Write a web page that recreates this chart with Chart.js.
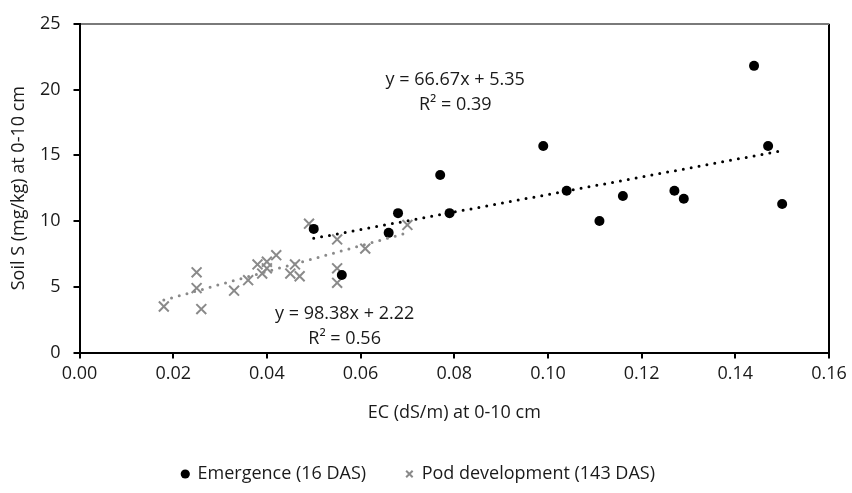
<!DOCTYPE html>
<html>
<head>
<meta charset="utf-8">
<script src="https://cdn.jsdelivr.net/npm/chart.js@4/dist/chart.umd.min.js"></script>
<style>
    html, body { margin: 0; padding: 0; background: #fff; }
    #wrap { width: 852px; height: 493px; }
</style>
</head>
<body>
<div id="wrap"><canvas id="SoilSChart" width="852" height="493"></canvas></div>
<script>
// EC vs soil S, two sampling dates
var ecEmergence = [0.050, 0.056, 0.066, 0.068, 0.077, 0.079, 0.099, 0.104, 0.111, 0.116, 0.127, 0.129, 0.144, 0.147, 0.150];
var sEmergence = [9.4, 5.9, 9.1, 10.6, 13.5, 10.6, 15.7, 12.3, 10.0, 11.9, 12.3, 11.7, 21.8, 15.7, 11.3];

var ecPod = [0.018, 0.025, 0.025, 0.026, 0.033, 0.036, 0.038, 0.039, 0.040, 0.040, 0.042, 0.045, 0.046, 0.047, 0.049, 0.055, 0.055, 0.055, 0.061, 0.070];
var sPod = [3.5, 6.1, 4.9, 3.3, 4.7, 5.5, 6.7, 6.0, 6.9, 6.4, 7.4, 6.0, 6.7, 5.8, 9.8, 8.6, 6.4, 5.3, 7.9, 9.7];

// linear fits: [slope, intercept, r2]
var fitEmergence = [66.67, 5.35, 0.39];
var fitPod = [98.38, 2.22, 0.56];

var seriesNames = ["Emergence (16 DAS)", "Pod development (143 DAS)"];
var xTitle = "EC (dS/m) at 0-10 cm";
var yTitle = "Soil S (mg/kg) at 0-10 cm";

var FONT = "'Open Sans', sans-serif";
var FSIZE = 18;
var TEXT = "#1a1a1a";
var GREY = "#8a8a8a";

function toPoints(xs, ys) {
    return xs.map(function (x, i) { return { x: x, y: ys[i] }; });
}

function trendPoints(xs, fit) {
    var lo = Math.min.apply(null, xs), hi = Math.max.apply(null, xs);
    return [lo, hi].map(function (x) { return { x: x, y: fit[0] * x + fit[1] }; });
}

function eqText(fit) {
    return "y = " + fit[0].toFixed(2) + "x + " + fit[1].toFixed(2);
}

// equation labels, placed in data units
var fitLabels = {
    id: "fitLabels",
    afterDatasetsDraw: function (chart) {
        var ctx = chart.ctx, xs = chart.scales.x, ys = chart.scales.y;
        var items = [
            [eqText(fitEmergence), 0.0802, 20.7],
            ["R\u00b2 = " + fitEmergence[2].toFixed(2), 0.0802, 18.85],
            [eqText(fitPod), 0.0566, 2.95],
            ["R\u00b2 = " + fitPod[2].toFixed(2), 0.0566, 1.0]
        ];
        ctx.save();
        ctx.font = FSIZE + "px " + FONT;
        ctx.fillStyle = TEXT;
        ctx.textAlign = "center";
        ctx.textBaseline = "middle";
        items.forEach(function (it) {
            ctx.fillText(it[0], xs.getPixelForValue(it[1]), ys.getPixelForValue(it[2]));
        });
        ctx.restore();
    }
};

var dotted = {
    showLine: true,
    pointRadius: 0,
    borderWidth: 3,
    borderDash: [0, 8],
    borderCapStyle: "round",
    fill: false
};

var ctx = document.getElementById("SoilSChart").getContext("2d");
var soilChart = new Chart(ctx, {
    type: "scatter",
    data: {
        datasets: [{
            label: seriesNames[0],
            data: toPoints(ecEmergence, sEmergence),
            pointStyle: "circle",
            pointRadius: 5,
            backgroundColor: "#000",
            borderColor: "#000",
            borderWidth: 0,
            order: 1
        },
        {
            label: seriesNames[1],
            data: toPoints(ecPod, sPod),
            pointStyle: "crossRot",
            pointRadius: 7,
            backgroundColor: GREY,
            borderColor: GREY,
            borderWidth: 2,
            order: 2
        },
        Object.assign({
            label: "trend1",
            data: trendPoints(ecEmergence, fitEmergence),
            borderColor: "#000",
            order: 0
        }, dotted),
        Object.assign({
            label: "trend2",
            data: trendPoints(ecPod, fitPod),
            borderColor: GREY,
            order: 0
        }, dotted)]
    },
    options: {
        responsive: false,
        animation: false,
        layout: { padding: { left: 8, right: 23, top: 17.5, bottom: 0 } },
        plugins: {
            tooltip: { enabled: false },
            legend: {
                position: "bottom",
                labels: {
                    usePointStyle: true,
                    boxWidth: 6.5,
                    boxHeight: 6.5,
                    padding: 40,
                    color: TEXT,
                    font: { family: FONT, size: FSIZE },
                    filter: function (item) { return item.datasetIndex < 2; }
                }
            }
        },
        scales: {
            x: {
                type: "linear",
                min: 0,
                max: 0.16,
                border: { color: "#000", width: 2 },
                grid: {
                    color: function (c) { return c.tick && c.tick.value >= 0.16 ? "#000" : "transparent"; },
                    lineWidth: 2,
                    tickColor: "#000",
                    tickWidth: 2,
                    tickLength: 6
                },
                ticks: {
                    stepSize: 0.02,
                    color: TEXT,
                    font: { family: FONT, size: FSIZE },
                    padding: 5,
                    callback: function (v) { return v.toFixed(2); }
                },
                title: {
                    display: true,
                    text: xTitle,
                    color: TEXT,
                    font: { family: FONT, size: FSIZE },
                    padding: { top: 10, bottom: 1 }
                },
                afterFit: function (s) { s.height = 72.5; }
            },
            y: {
                min: 0,
                max: 25,
                border: { color: "#000", width: 2 },
                grid: {
                    color: function (c) { return c.tick && c.tick.value >= 25 ? "#7a7a7a" : "transparent"; },
                    lineWidth: 2,
                    tickColor: "#000",
                    tickWidth: 2,
                    tickLength: 6
                },
                ticks: {
                    stepSize: 5,
                    color: TEXT,
                    font: { family: FONT, size: FSIZE },
                    padding: 13
                },
                title: {
                    display: true,
                    text: yTitle,
                    color: TEXT,
                    font: { family: FONT, size: FSIZE },
                    padding: { top: 0, bottom: 6 }
                },
                afterFit: function (s) { s.width = 71.5; }
            }
        }
    },
    plugins: [fitLabels]
});
</script>
</body>
</html>
